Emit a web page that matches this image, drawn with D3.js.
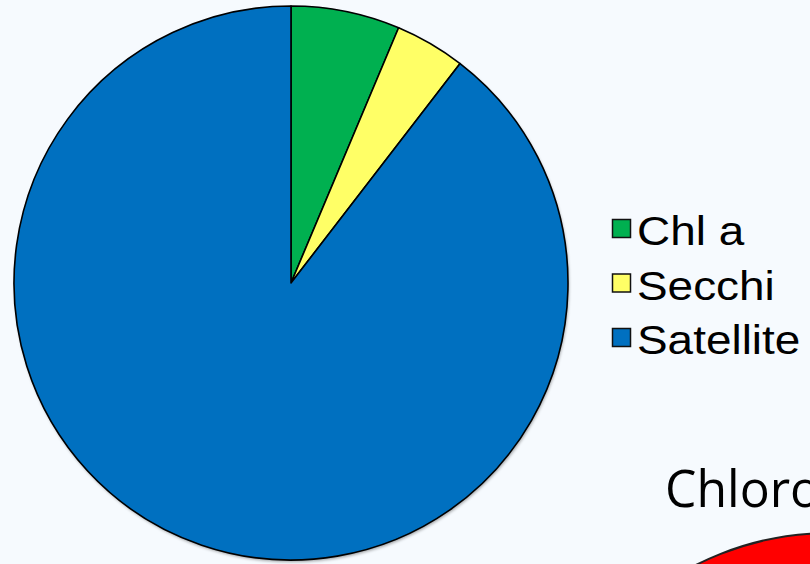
<!DOCTYPE html>
<html>
<head>
<meta charset="utf-8">
<script src="https://cdn.jsdelivr.net/npm/d3@7"></script>
<style>
  html, body { margin: 0; padding: 0; background: #F6FAFE; }
  svg { display: block; }
</style>
</head>
<body>
<script>
// Share of observations by source
const categories = ["Chl a", "Secchi", "Satellite"];
const shares = [6.35, 4.1, 89.55];
const colors = ["#00B050", "#FFFF66", "#0070C0"];
const caption = "Chlorophyll";

const W = 810, H = 564;
const cx = 291, cy = 283, R = 277;

const svg = d3.select("body").append("svg")
  .attr("width", W).attr("height", H);

svg.append("rect").attr("width", W).attr("height", H).attr("fill", "#F6FAFE");

// soft shadow under the pie rim
const defs = svg.append("defs");
const f = defs.append("filter").attr("id", "shadow")
  .attr("x", "-10%").attr("y", "-10%").attr("width", "120%").attr("height", "120%");
f.append("feDropShadow").attr("dx", 1).attr("dy", 2).attr("stdDeviation", 1.5)
  .attr("flood-color", "#000").attr("flood-opacity", 0.35);

const color = d3.scaleOrdinal().domain(categories).range(colors);
const pie = d3.pie().sort(null).value(d => d.v);
const arc = d3.arc().innerRadius(0).outerRadius(R);

const data = categories.map((c, i) => ({ c, v: shares[i] }));

const g = svg.append("g").attr("transform", `translate(${cx},${cy})`);
g.append("circle").attr("r", R).attr("fill", "#0070C0").attr("filter", "url(#shadow)");
g.selectAll("path.slice")
  .data(pie(data))
  .join("path")
  .attr("class", "slice")
  .attr("d", arc)
  .attr("fill", d => color(d.data.c))
  .attr("stroke", "#000")
  .attr("stroke-width", 1.6)
  .attr("stroke-linejoin", "round");

// legend
const legendY = d3.scalePoint().domain(categories).range([219, 328]);
const leg = svg.append("g");
const item = leg.selectAll("g.item").data(categories).join("g").attr("class", "item")
  .attr("transform", d => `translate(612,${legendY(d)})`);
item.append("rect")
  .attr("x", 0.5).attr("y", 0.5).attr("width", 18).attr("height", 18)
  .attr("fill", d => color(d)).attr("stroke", "#111").attr("stroke-width", 1.5);
item.append("text")
  .attr("transform", "translate(25,26) scale(1.12,1)")
  .attr("font-family", "Liberation Sans, Arial, sans-serif")
  .attr("font-size", 41)
  .attr("fill", "#000")
  .text(d => d);

// red disc peeking in at the bottom corner
svg.append("circle")
  .attr("cx", 830).attr("cy", 830).attr("r", 297)
  .attr("fill", "#FF0000").attr("stroke", "#222").attr("stroke-width", 2);

// heading that runs off the right edge
svg.append("text")
  .attr("transform", "translate(665,507) scale(0.96,1)")
  .attr("font-family", "Open Sans, sans-serif")
  .attr("font-size", 52)
  .attr("fill", "#000")
  .text(caption);
</script>
</body>
</html>
